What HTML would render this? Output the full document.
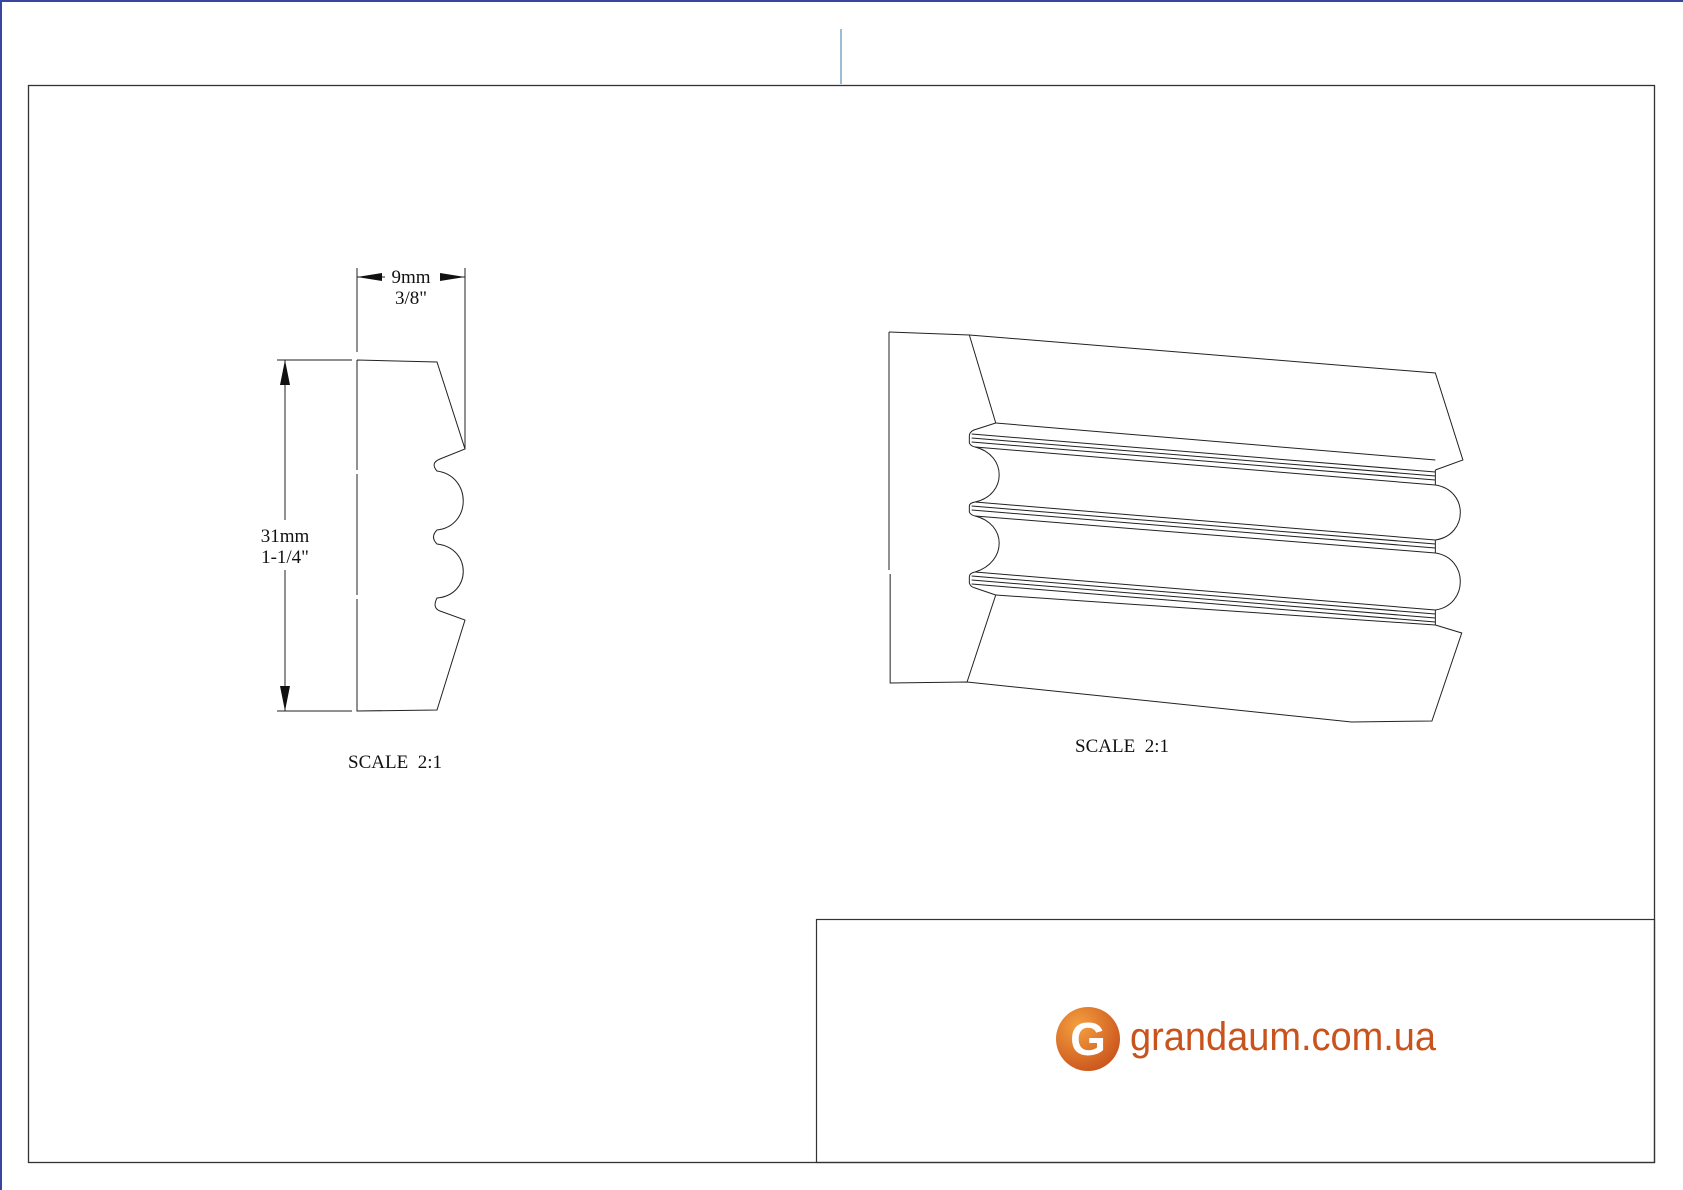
<!DOCTYPE html>
<html><head><meta charset="utf-8"><style>
html,body{margin:0;padding:0;background:#fff;}
svg{display:block;}
</style></head><body>
<svg width="1683" height="1190" viewBox="0 0 1683 1190" xmlns="http://www.w3.org/2000/svg">
<rect x="0" y="0" width="1683" height="1190" fill="#fff"/>
<line x1="0" y1="1" x2="1683" y2="1" stroke="#3a45a0" stroke-width="2"/>
<line x1="1" y1="0" x2="1" y2="1190" stroke="#3a45a0" stroke-width="2"/>
<line x1="841" y1="29" x2="841" y2="84" stroke="#5a90b8" stroke-width="1.2"/>
<rect x="28.5" y="85.5" width="1626" height="1077" fill="none" stroke="#333" stroke-width="1.3"/>
<rect x="816.5" y="919.5" width="838" height="243" fill="none" stroke="#333" stroke-width="1.2"/>

<g fill="none" stroke="#222" stroke-width="1">
<path d="M357,360 L357,470 M357,474 L357,595 M357,599 L357,711 L437,710 L465,620 L440,611 Q432,608 437,598 C472,595 472,548 437,544 Q430,537 437,530 C472,526 472,476 437,471 Q430,463 440,459 L465,449 L437,362 L357,360"/>
<line x1="357" y1="268" x2="357" y2="352"/>
<line x1="465" y1="268" x2="465" y2="449"/>
<line x1="277" y1="360" x2="352" y2="360"/>
<line x1="277" y1="711" x2="352" y2="711"/>
<line x1="285" y1="360" x2="285" y2="520"/>
<line x1="285" y1="570" x2="285" y2="711"/>
<line x1="357" y1="277" x2="385" y2="277"/>
<line x1="440" y1="277" x2="465" y2="277"/>
</g>
<g fill="#111">
<polygon points="285,360 280,385 290,385"/>
<polygon points="285,711 280,686 290,686"/>
<polygon points="357,277 382,273 382,281"/>
<polygon points="465,277 440,273 440,281"/>
</g>
<g font-family="Liberation Serif, serif" fill="#111" text-anchor="middle" font-size="19">
<text x="411" y="283">9mm</text>
<text x="411" y="304">3/8"</text>
<text x="285" y="542">31mm</text>
<text x="285" y="563">1-1/4"</text>
<text x="395" y="768">SCALE&#160;&#160;2:1</text>
<text x="1122" y="752">SCALE&#160;&#160;2:1</text>
</g>

<g fill="none" stroke="#222" stroke-width="1" transform="matrix(1.1478 0 0 1 -129.1 0)">
<g vector-effect="non-scaling-stroke">
<path vector-effect="non-scaling-stroke" d="M887,332 L887,570 M888,574 L888,683 L955,682 L1290,722 L1360,721 L1386,633 L1363,625"/>
<path vector-effect="non-scaling-stroke" d="M887,332 L957,335 L1363,373 L1387,460 L1363,470"/>
<line vector-effect="non-scaling-stroke" x1="957" y1="335" x2="980" y2="423"/>
<line vector-effect="non-scaling-stroke" x1="955" y1="682" x2="980" y2="595"/>
<path vector-effect="non-scaling-stroke" d="M980,423 L961,430 Q957,432 957,436 L957,443 Q958,446 962,447"/>
<line vector-effect="non-scaling-stroke" x1="980" y1="423" x2="1363" y2="460"/>
<line vector-effect="non-scaling-stroke" x1="959" y1="434" x2="1363" y2="472"/>
<line vector-effect="non-scaling-stroke" x1="959" y1="438" x2="1363" y2="476"/>
<line vector-effect="non-scaling-stroke" x1="959" y1="442" x2="1363" y2="480"/>
<line vector-effect="non-scaling-stroke" x1="962" y1="447" x2="1363" y2="485"/>
<line vector-effect="non-scaling-stroke" x1="1363" y1="470" x2="1363" y2="485"/>
<path vector-effect="non-scaling-stroke" d="M962,447 C990,455 990,495 962,502"/>
<path vector-effect="non-scaling-stroke" d="M1363,485 C1392,490 1392,535 1363,540"/>
<path vector-effect="non-scaling-stroke" d="M962,502 Q957,503 957,506 L957,512 Q958,515 962,516"/>
<line vector-effect="non-scaling-stroke" x1="962" y1="502" x2="1363" y2="540"/>
<line vector-effect="non-scaling-stroke" x1="959" y1="506" x2="1363" y2="544"/>
<line vector-effect="non-scaling-stroke" x1="959" y1="510" x2="1363" y2="548"/>
<line vector-effect="non-scaling-stroke" x1="962" y1="516" x2="1363" y2="553"/>
<line vector-effect="non-scaling-stroke" x1="1363" y1="540" x2="1363" y2="553"/>
<path vector-effect="non-scaling-stroke" d="M962,516 C990,524 990,562 962,572"/>
<path vector-effect="non-scaling-stroke" d="M1363,553 C1392,558 1392,605 1363,610"/>
<path vector-effect="non-scaling-stroke" d="M962,572 Q957,573 957,577 L957,583 Q958,587 962,588 L980,595"/>
<line vector-effect="non-scaling-stroke" x1="962" y1="572" x2="1363" y2="610"/>
<line vector-effect="non-scaling-stroke" x1="959" y1="576" x2="1363" y2="614"/>
<line vector-effect="non-scaling-stroke" x1="959" y1="580" x2="1363" y2="618"/>
<line vector-effect="non-scaling-stroke" x1="959" y1="584" x2="1363" y2="622"/>
<line vector-effect="non-scaling-stroke" x1="980" y1="595" x2="1363" y2="625"/>
<line vector-effect="non-scaling-stroke" x1="1363" y1="610" x2="1363" y2="625"/>
</g>
</g>

<defs><radialGradient id="g" cx="0.35" cy="0.3" r="0.8">
<stop offset="0" stop-color="#f4a040"/><stop offset="1" stop-color="#c8501a"/></radialGradient></defs>
<circle cx="1088" cy="1039" r="32" fill="url(#g)"/>
<text x="1088" y="1055" text-anchor="middle" font-family="Liberation Sans, sans-serif" font-weight="bold" font-size="46" fill="#fff">G</text>
<text x="1130" y="1050" font-family="Liberation Sans, sans-serif" font-size="40" fill="#c8531c" textLength="306" lengthAdjust="spacingAndGlyphs">grandaum.com.ua</text>
</svg>
</body></html>
